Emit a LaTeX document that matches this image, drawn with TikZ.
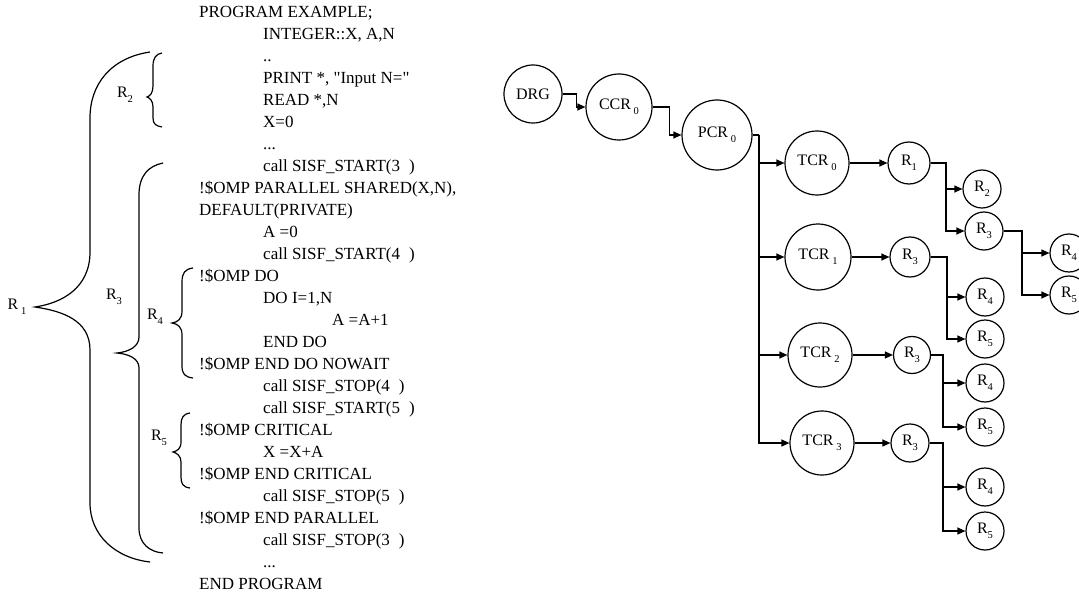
\documentclass[tikz,border=0pt]{standalone}
\usepackage{fontspec}
\setmainfont{Liberation Serif}
\usetikzlibrary{arrows.meta}
\newcommand{\sbs}[1]{\raisebox{-0.3em}{\fontsize{10.5}{10.5}\selectfont #1}}
\begin{document}
\begin{tikzpicture}[x=1pt,y=-1pt,
  code/.style={anchor=base west, inner sep=0pt, font=\fontsize{17}{17}\selectfont},
  bigc/.style={circle, draw, line width=1.2pt, inner sep=0pt, font=\fontsize{16}{16}\selectfont},
  smallc/.style={circle, draw, line width=1.2pt, minimum size=38pt, inner sep=0pt, font=\fontsize{16}{16}\selectfont},
  arr/.style={line width=1.3pt, -{Triangle[length=8pt,width=7pt]}},
  brace/.style={line width=1.2pt},
  lab/.style={inner sep=0pt, font=\fontsize{16}{16}\selectfont}]
\useasboundingbox (0,0) rectangle (1079,599);
\clip (0,0) rectangle (1079,599);
% ---------- code ----------
\node[code] (c0)  at (199,17.3)  {PROGRAM EXAMPLE;};
\node[code] (c1)  at (263,39.3)  {INTEGER::X, A,N};
\node[code] (c2)  at (263,61.3)  {..};
\node[code] (c3)  at (263,83.3)  {PRINT *, \textquotedbl Input N=\textquotedbl};
\node[code] (c4)  at (263,105.3) {READ *,N};
\node[code] (c5)  at (263,127.3) {X=0};
\node[code] (c6)  at (263,149.3) {...};
\node[code] (c7)  at (263,171.3) {call SISF\_START(3\hspace{9pt})};
\node[code] (c8)  at (199,193.3) {!\$OMP PARALLEL SHARED(X,N),};
\node[code] (c9)  at (199,215.3) {DEFAULT(PRIVATE)};
\node[code] (c10) at (263,237.3) {A =0};
\node[code] (c11) at (263,259.3) {call SISF\_START(4\hspace{9pt})};
\node[code] (c12) at (199,281.3) {!\$OMP DO};
\node[code] (c13) at (263,303.3) {DO I=1,N};
\node[code] (c14) at (332,325.3) {A =A+1};
\node[code] (c15) at (263,347.3) {END DO};
\node[code] (c16) at (199,369.3) {!\$OMP END DO NOWAIT};
\node[code] (c17) at (263,391.3) {call SISF\_STOP(4\hspace{9pt})};
\node[code] (c18) at (263,413.3) {call SISF\_START(5\hspace{9pt})};
\node[code] (c19) at (199,435.3) {!\$OMP CRITICAL};
\node[code] (c20) at (263,457.3) {X =X+A};
\node[code] (c21) at (199,479.3) {!\$OMP END CRITICAL};
\node[code] (c22) at (263,501.3) {call SISF\_STOP(5\hspace{9pt})};
\node[code] (c23) at (199,523.3) {!\$OMP END PARALLEL};
\node[code] (c24) at (263,545.3) {call SISF\_STOP(3\hspace{9pt})};
\node[code] (c25) at (263,567.3) {...};
\node[code] (c26) at (199,589.3) {END PROGRAM};
% ---------- braces ----------
% R2
\draw[brace] (162,53) .. controls (156,54) and (153,58) .. (153,66) -- (153,86)
  .. controls (153,93) and (150,96) .. (147,97) .. controls (150,98) and (153,101) .. (153,107)
  -- (153,118) .. controls (153,124) and (156,126) .. (162,127);
\node[lab] (lR2) at (125,95) {R\sbs{2}};
% R1
\draw[brace] (150,52) .. controls (110,58) and (90,85) .. (90,118) -- (90,252)
  .. controls (90,288) and (62,303) .. (35,307) .. controls (62,311) and (90,320) .. (90,350)
  -- (90,503) .. controls (90,535) and (115,558) .. (150,562);
\node[lab] (lR1) at (17,307) {R\,\sbs{1}};
% R3
\draw[brace] (163,163) .. controls (148,166) and (139,176) .. (139,195) -- (139,337)
  .. controls (139,347) and (128,352) .. (117,353) .. controls (128,354) and (139,358) .. (139,368)
  -- (139,528) .. controls (139,544) and (150,552) .. (163,553);
\node[lab] (lR3) at (114,297) {R\sbs{3}};
% R4
\draw[brace] (193,268) .. controls (185,269) and (182,273) .. (182,282) -- (182,311)
  .. controls (182,319) and (178,322) .. (172,323) .. controls (178,324) and (182,327) .. (182,335)
  -- (182,366) .. controls (182,374) and (185,377) .. (193,378);
\node[lab] (lR4) at (155,317) {R\sbs{4}};
% R5
\draw[brace] (190,413) .. controls (183,414) and (181,418) .. (181,425) -- (181,442)
  .. controls (181,449) and (177,451) .. (173,452) .. controls (177,453) and (181,456) .. (181,462)
  -- (181,477) .. controls (181,484) and (183,487) .. (190,488);
\node[lab] (lR5) at (159,438) {R\sbs{5}};
% ---------- graph ----------
\node[bigc, minimum size=58pt] (DRG) at (533,94) {DRG};
\node[bigc, minimum size=66pt] (CCR) at (619,107) {CCR\,\sbs{0}};
\node[bigc, minimum size=70pt] (PCR) at (717,135) {PCR\,\sbs{0}};
\node[bigc, minimum size=64pt] (T0) at (817,163) {TCR\,\sbs{0}};
\node[bigc, minimum size=66pt] (T1) at (818,257) {TCR\,\sbs{1}};
\node[bigc, minimum size=64pt] (T2) at (820,355) {TCR\,\sbs{2}};
\node[bigc, minimum size=64pt] (T3) at (822,443) {TCR\,\sbs{3}};
% row 0
\node[smallc, minimum size=42pt] (a1) at (909,163) {R\sbs{1}};
\node[smallc] (a2) at (982,189) {R\sbs{2}};
\node[smallc] (a3) at (984,231) {R\sbs{3}};
\node[smallc] (a4) at (1069,253) {R\sbs{4}};
\node[smallc] (a5) at (1069,295) {R\sbs{5}};
% row 1
\node[smallc, minimum size=40pt] (b3) at (910,257) {R\sbs{3}};
\node[smallc] (b4) at (985,297) {R\sbs{4}};
\node[smallc] (b5) at (985,339) {R\sbs{5}};
% row 2
\node[smallc, minimum size=37pt] (d3) at (912,355) {R\sbs{3}};
\node[smallc] (d4) at (985,383) {R\sbs{4}};
\node[smallc] (d5) at (985,427) {R\sbs{5}};
% row 3
\node[smallc] (e3) at (910,443) {R\sbs{3}};
\node[smallc] (e4) at (985,487) {R\sbs{4}};
\node[smallc] (e5) at (985,531) {R\sbs{5}};
% connectors
\draw[arr] (DRG.east) -- ++(14,0) |- (CCR.west);
\draw[arr] (CCR.east) -- ++(17,0) |- (PCR.west);
\coordinate (trunk) at (759,135);
\draw[line width=1.3pt] (PCR.east) -- (trunk);
\draw[arr] (trunk) |- (T0.west);
\draw[arr] (trunk) |- (T1.west);
\draw[arr] (trunk) |- (T2.west);
\draw[arr] (trunk) |- (T3.west);
\draw[arr] (T0.east) -- (a1.west);
\draw[arr] (T1.east) -- (b3.west);
\draw[arr] (T2.east) -- (d3.west);
\draw[arr] (T3.east) -- (e3.west);
\draw[arr] (a1.east) -| (946,189) -- (a2.west);
\draw[arr] (a1.east) -| (946,231) -- (a3.west);
\draw[arr] (a3.east) -| (1022,253) -- (a4.west);
\draw[arr] (a3.east) -| (1022,295) -- (a5.west);
\draw[arr] (b3.east) -| (947,297) -- (b4.west);
\draw[arr] (b3.east) -| (947,339) -- (b5.west);
\draw[arr] (d3.east) -| (943,383) -- (d4.west);
\draw[arr] (d3.east) -| (943,427) -- (d5.west);
\draw[arr] (e3.east) -| (943,487) -- (e4.west);
\draw[arr] (e3.east) -| (943,531) -- (e5.west);
\end{tikzpicture}
\end{document}
